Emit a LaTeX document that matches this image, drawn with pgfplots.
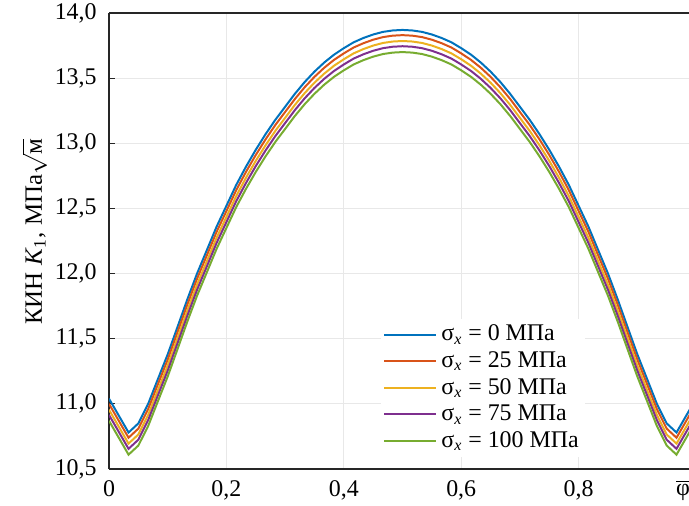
\documentclass[border=0pt]{standalone}
\usepackage{fontspec}
\setmainfont{Liberation Serif}
\usepackage{pgfplots}
\pgfplotsset{compat=1.18}
\usepackage{pgfplotstable}

\definecolor{c1}{rgb}{0,0.447,0.741}
\definecolor{c2}{rgb}{0.850,0.325,0.098}
\definecolor{c3}{rgb}{0.929,0.694,0.125}
\definecolor{c4}{rgb}{0.494,0.184,0.556}
\definecolor{c5}{rgb}{0.466,0.674,0.188}
\definecolor{axcol}{rgb}{0.15,0.15,0.15}

% K1 vs normalised angle, five load levels
\pgfplotstableread{
x      b       o       y       p       g
0.0000 11.04   11.00   10.955  10.915  10.87
0.0333 10.78   10.74   10.695  10.655  10.61
0.0500 10.85   10.81   10.765  10.725  10.68
0.0667 11.00   10.96   10.915  10.875  10.83
0.0833 11.19   11.15   11.105  11.065  11.02
0.1000 11.38   11.34   11.295  11.255  11.21
0.1167 11.59   11.55   11.505  11.465  11.42
0.1333 11.80   11.76   11.715  11.675  11.63
0.1500 12.00   11.96   11.915  11.875  11.83
0.1667 12.18   12.14   12.095  12.055  12.01
0.1833 12.36   12.32   12.275  12.235  12.19
0.2000 12.52   12.48   12.435  12.395  12.35
0.2167 12.68   12.64   12.595  12.555  12.51
0.2333 12.82   12.78   12.735  12.695  12.65
0.2500 12.95   12.91   12.865  12.825  12.78
0.2667 13.07   13.03   12.985  12.945  12.90
0.2833 13.18   13.14   13.095  13.055  13.01
0.3000 13.28   13.24   13.195  13.155  13.11
0.3167 13.38   13.34   13.295  13.255  13.21
0.3333 13.47   13.43   13.385  13.345  13.30
0.3500 13.55   13.51   13.465  13.425  13.38
0.3667 13.62   13.58   13.535  13.495  13.45
0.3833 13.68   13.64   13.595  13.555  13.51
0.4000 13.73   13.69   13.645  13.605  13.56
0.4167 13.775  13.735  13.69   13.65   13.605
0.4333 13.808  13.768  13.723  13.683  13.638
0.4500 13.835  13.795  13.75   13.71   13.665
0.4667 13.855  13.815  13.77   13.73   13.685
0.4833 13.866  13.826  13.781  13.741  13.696
0.5000 13.87   13.83   13.785  13.745  13.70
0.5167 13.866  13.826  13.781  13.741  13.696
0.5333 13.855  13.815  13.77   13.73   13.685
0.5500 13.835  13.795  13.75   13.71   13.665
0.5667 13.808  13.768  13.723  13.683  13.638
0.5833 13.775  13.735  13.69   13.65   13.605
0.6000 13.73   13.69   13.645  13.605  13.56
0.6167 13.68   13.64   13.595  13.555  13.51
0.6333 13.62   13.58   13.535  13.495  13.45
0.6500 13.55   13.51   13.465  13.425  13.38
0.6667 13.47   13.43   13.385  13.345  13.30
0.6833 13.38   13.34   13.295  13.255  13.21
0.7000 13.28   13.24   13.195  13.155  13.11
0.7167 13.18   13.14   13.095  13.055  13.01
0.7333 13.07   13.03   12.985  12.945  12.90
0.7500 12.95   12.91   12.865  12.825  12.78
0.7667 12.82   12.78   12.735  12.695  12.65
0.7833 12.68   12.64   12.595  12.555  12.51
0.8000 12.52   12.48   12.435  12.395  12.35
0.8167 12.36   12.32   12.275  12.235  12.19
0.8333 12.18   12.14   12.095  12.055  12.01
0.8500 12.00   11.96   11.915  11.875  11.83
0.8667 11.80   11.76   11.715  11.675  11.63
0.8833 11.59   11.55   11.505  11.465  11.42
0.9000 11.38   11.34   11.295  11.255  11.21
0.9167 11.19   11.15   11.105  11.065  11.02
0.9333 11.00   10.96   10.915  10.875  10.83
0.9500 10.85   10.81   10.765  10.725  10.68
0.9667 10.78   10.74   10.695  10.655  10.61
1.0000 11.04   11.00   10.955  10.915  10.87
}\kdata

\begin{document}
\fontsize{12}{14}\selectfont
\begin{tikzpicture}
\begin{axis}[
  scale only axis,
  width=290bp, height=228bp,
  xmin=0, xmax=0.988,
  ymin=10.5, ymax=14,
  separate axis lines,
  axis x line*=box,
  axis y line*=left,
  axis line style={axcol, line width=0.9pt},
  xtick={0,0.2,0.4,0.6,0.8},
  xticklabels={0,{0,2},{0,4},{0,6},{0,8}},
  extra x ticks={0.978},
  extra x tick labels={$\overline{\mbox{φ}}$},
  extra x tick style={grid=none},
  ytick={10.5,11,11.5,12,12.5,13,13.5,14},
  yticklabels={{10,5},{11,0},{11,5},{12,0},{12,5},{13,0},{13,5},{14,0}},
  xtick style={draw=none},
  ytick pos=left,
  ytick style={axcol, line width=0.6pt},
  tick align=inside,
  major tick length=3bp,
  grid=major,
  major grid style={gray!18, line width=0.6pt},
  ticklabel style={font=\fontsize{12}{14}\selectfont},
  xticklabel style={yshift=-1.5bp},
  yticklabel style={xshift=-2bp},
  ylabel={КИН \textit{K}\textsubscript{1}, МПа$\sqrt{\mbox{м}}$},
  ylabel style={at={(axis description cs:-0.128,0.52)}, anchor=center, font=\fontsize{12.5}{14}\selectfont},
  legend cell align=left,
  legend style={at={(axis description cs:0.469,0.33)}, anchor=north west,
    draw=none, fill=white, font=\fontsize{12}{14}\selectfont,
    row sep=-0.4pt, inner sep=1pt},
  legend image code/.code={\draw[#1] (0bp,0bp) -- (26bp,0bp);},
  every axis plot/.append style={line width=1pt},
]
\addplot[c1] table[x=x, y=b] {\kdata};
\addplot[c2] table[x=x, y=o] {\kdata};
\addplot[c3] table[x=x, y=y] {\kdata};
\addplot[c4] table[x=x, y=p] {\kdata};
\addplot[c5] table[x=x, y=g] {\kdata};
\legend{σ\textsubscript{\itshape x} = 0 МПа,
        σ\textsubscript{\itshape x} = 25 МПа,
        σ\textsubscript{\itshape x} = 50 МПа,
        σ\textsubscript{\itshape x} = 75 МПа,
        σ\textsubscript{\itshape x} = 100 МПа}
\end{axis}
\pgfresetboundingbox
\path ([shift={(-54.5bp,-18.5bp)}]current axis.south west)
  rectangle ([shift={(0bp,6.5bp)}]current axis.north east);
\end{tikzpicture}
\end{document}
